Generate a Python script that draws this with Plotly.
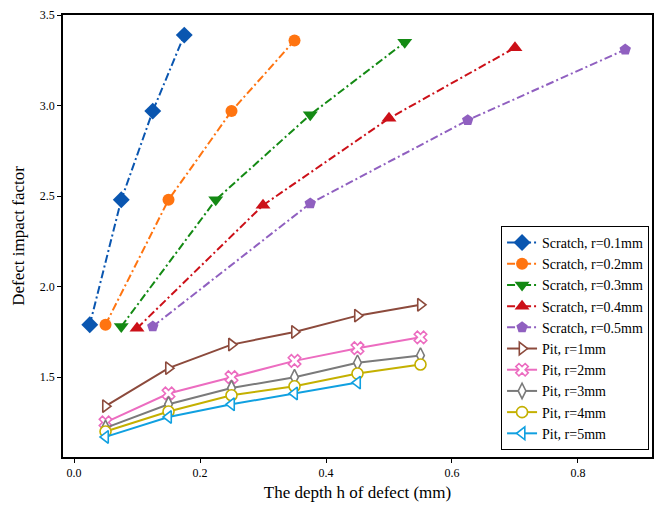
import plotly.graph_objects as go

# Scratch defects: depth h (mm) and defect impact factor
scratch_names = ["Scratch, r=0.1mm", "Scratch, r=0.2mm", "Scratch, r=0.3mm",
                 "Scratch, r=0.4mm", "Scratch, r=0.5mm"]
scratch_x = [
    [0.025, 0.075, 0.125, 0.175],
    [0.05, 0.15, 0.25, 0.35],
    [0.075, 0.225, 0.375, 0.525],
    [0.1, 0.3, 0.5, 0.7],
    [0.125, 0.375, 0.625, 0.875],
]
scratch_y = [
    [1.79, 2.48, 2.97, 3.39],
    [1.79, 2.48, 2.97, 3.36],
    [1.78, 2.48, 2.95, 3.35],
    [1.77, 2.45, 2.93, 3.32],
    [1.78, 2.46, 2.92, 3.31],
]

# Pit defects
pit_names = ["Pit, r=1mm", "Pit, r=2mm", "Pit, r=3mm", "Pit, r=4mm", "Pit, r=5mm"]
pit_x = [
    [0.05, 0.15, 0.25, 0.35, 0.45, 0.55],
    [0.05, 0.15, 0.25, 0.35, 0.45, 0.55],
    [0.05, 0.15, 0.25, 0.35, 0.45, 0.55],
    [0.05, 0.15, 0.25, 0.35, 0.45, 0.55],
    [0.05, 0.15, 0.25, 0.35, 0.45],
]
pit_y = [
    [1.34, 1.55, 1.68, 1.75, 1.84, 1.90],
    [1.25, 1.41, 1.50, 1.59, 1.66, 1.72],
    [1.22, 1.35, 1.44, 1.50, 1.58, 1.62],
    [1.20, 1.31, 1.40, 1.45, 1.52, 1.57],
    [1.17, 1.28, 1.35, 1.41, 1.47],
]

x_ticks = [0.0, 0.2, 0.4, 0.6, 0.8]
y_ticks = [1.5, 2.0, 2.5, 3.0, 3.5]

scratch_colors = ["#0a56b0", "#ff7410", "#148a14", "#cc1018", "#9060c0"]
scratch_symbols = ["diamond", "circle", "triangle-down", "triangle-up", "pentagon"]
scratch_sizes = [13, 12, 13, 13, 12]

pit_colors = ["#8c4a3c", "#ec6cc0", "#7a7a7a", "#c4b000", "#10a0e0"]
pit_symbols = ["triangle-right", "x", "diamond-tall", "circle", "triangle-left"]

SERIF = "Liberation Serif, Times New Roman, serif"

fig = go.Figure()

for name, xs, ys, col, sym, sz in zip(scratch_names, scratch_x, scratch_y,
                                      scratch_colors, scratch_symbols, scratch_sizes):
    fig.add_trace(go.Scatter(
        x=xs, y=ys, name=name, mode="lines+markers",
        line=dict(color=col, width=2, dash="8px,3px,2px,3px"),
        marker=dict(symbol=sym, size=sz, color=col, line=dict(color=col, width=0)),
    ))

for name, xs, ys, col, sym in zip(pit_names, pit_x, pit_y, pit_colors, pit_symbols):
    fig.add_trace(go.Scatter(
        x=xs, y=ys, name=name, mode="lines+markers",
        line=dict(color=col, width=2),
        marker=dict(symbol=sym, size=11, color="white", line=dict(color=col, width=1.6)),
    ))

# 5% padding around the data, like matplotlib's default autoscale
all_x = [v for s in scratch_x + pit_x for v in s]
all_y = [v for s in scratch_y + pit_y for v in s]
xpad = 0.05 * (max(all_x) - min(all_x))
ypad = 0.05 * (max(all_y) - min(all_y))

axis_common = dict(
    showgrid=False, zeroline=False, showline=True, linecolor="black", linewidth=1.5,
    mirror=True, ticks="outside", ticklen=4, tickwidth=1.2, tickcolor="black",
    tickfont=dict(family=SERIF, size=12, color="black"), tickformat=".1f",
)

fig.update_layout(
    width=656, height=510,
    margin=dict(l=63, r=2, t=15, b=53),
    paper_bgcolor="white", plot_bgcolor="white",
    xaxis=dict(
        range=[min(all_x) - xpad, max(all_x) + xpad], tickvals=x_ticks,
        title=dict(text="The depth h of defect (mm)", font=dict(family=SERIF, size=17, color="black"), standoff=7),
        **axis_common,
    ),
    yaxis=dict(
        range=[min(all_y) - ypad, max(all_y) + ypad], tickvals=y_ticks,
        title=dict(text="Defect impact factor", font=dict(family=SERIF, size=17, color="black"), standoff=11),
        **axis_common,
    ),
    legend=dict(
        x=0.995, xanchor="right", y=0.016, yanchor="bottom",
        bgcolor="white", bordercolor="black", borderwidth=1,
        font=dict(family=SERIF, size=14, color="black"),
    ),
    showlegend=True,
)

fig.write_html("out.html")
